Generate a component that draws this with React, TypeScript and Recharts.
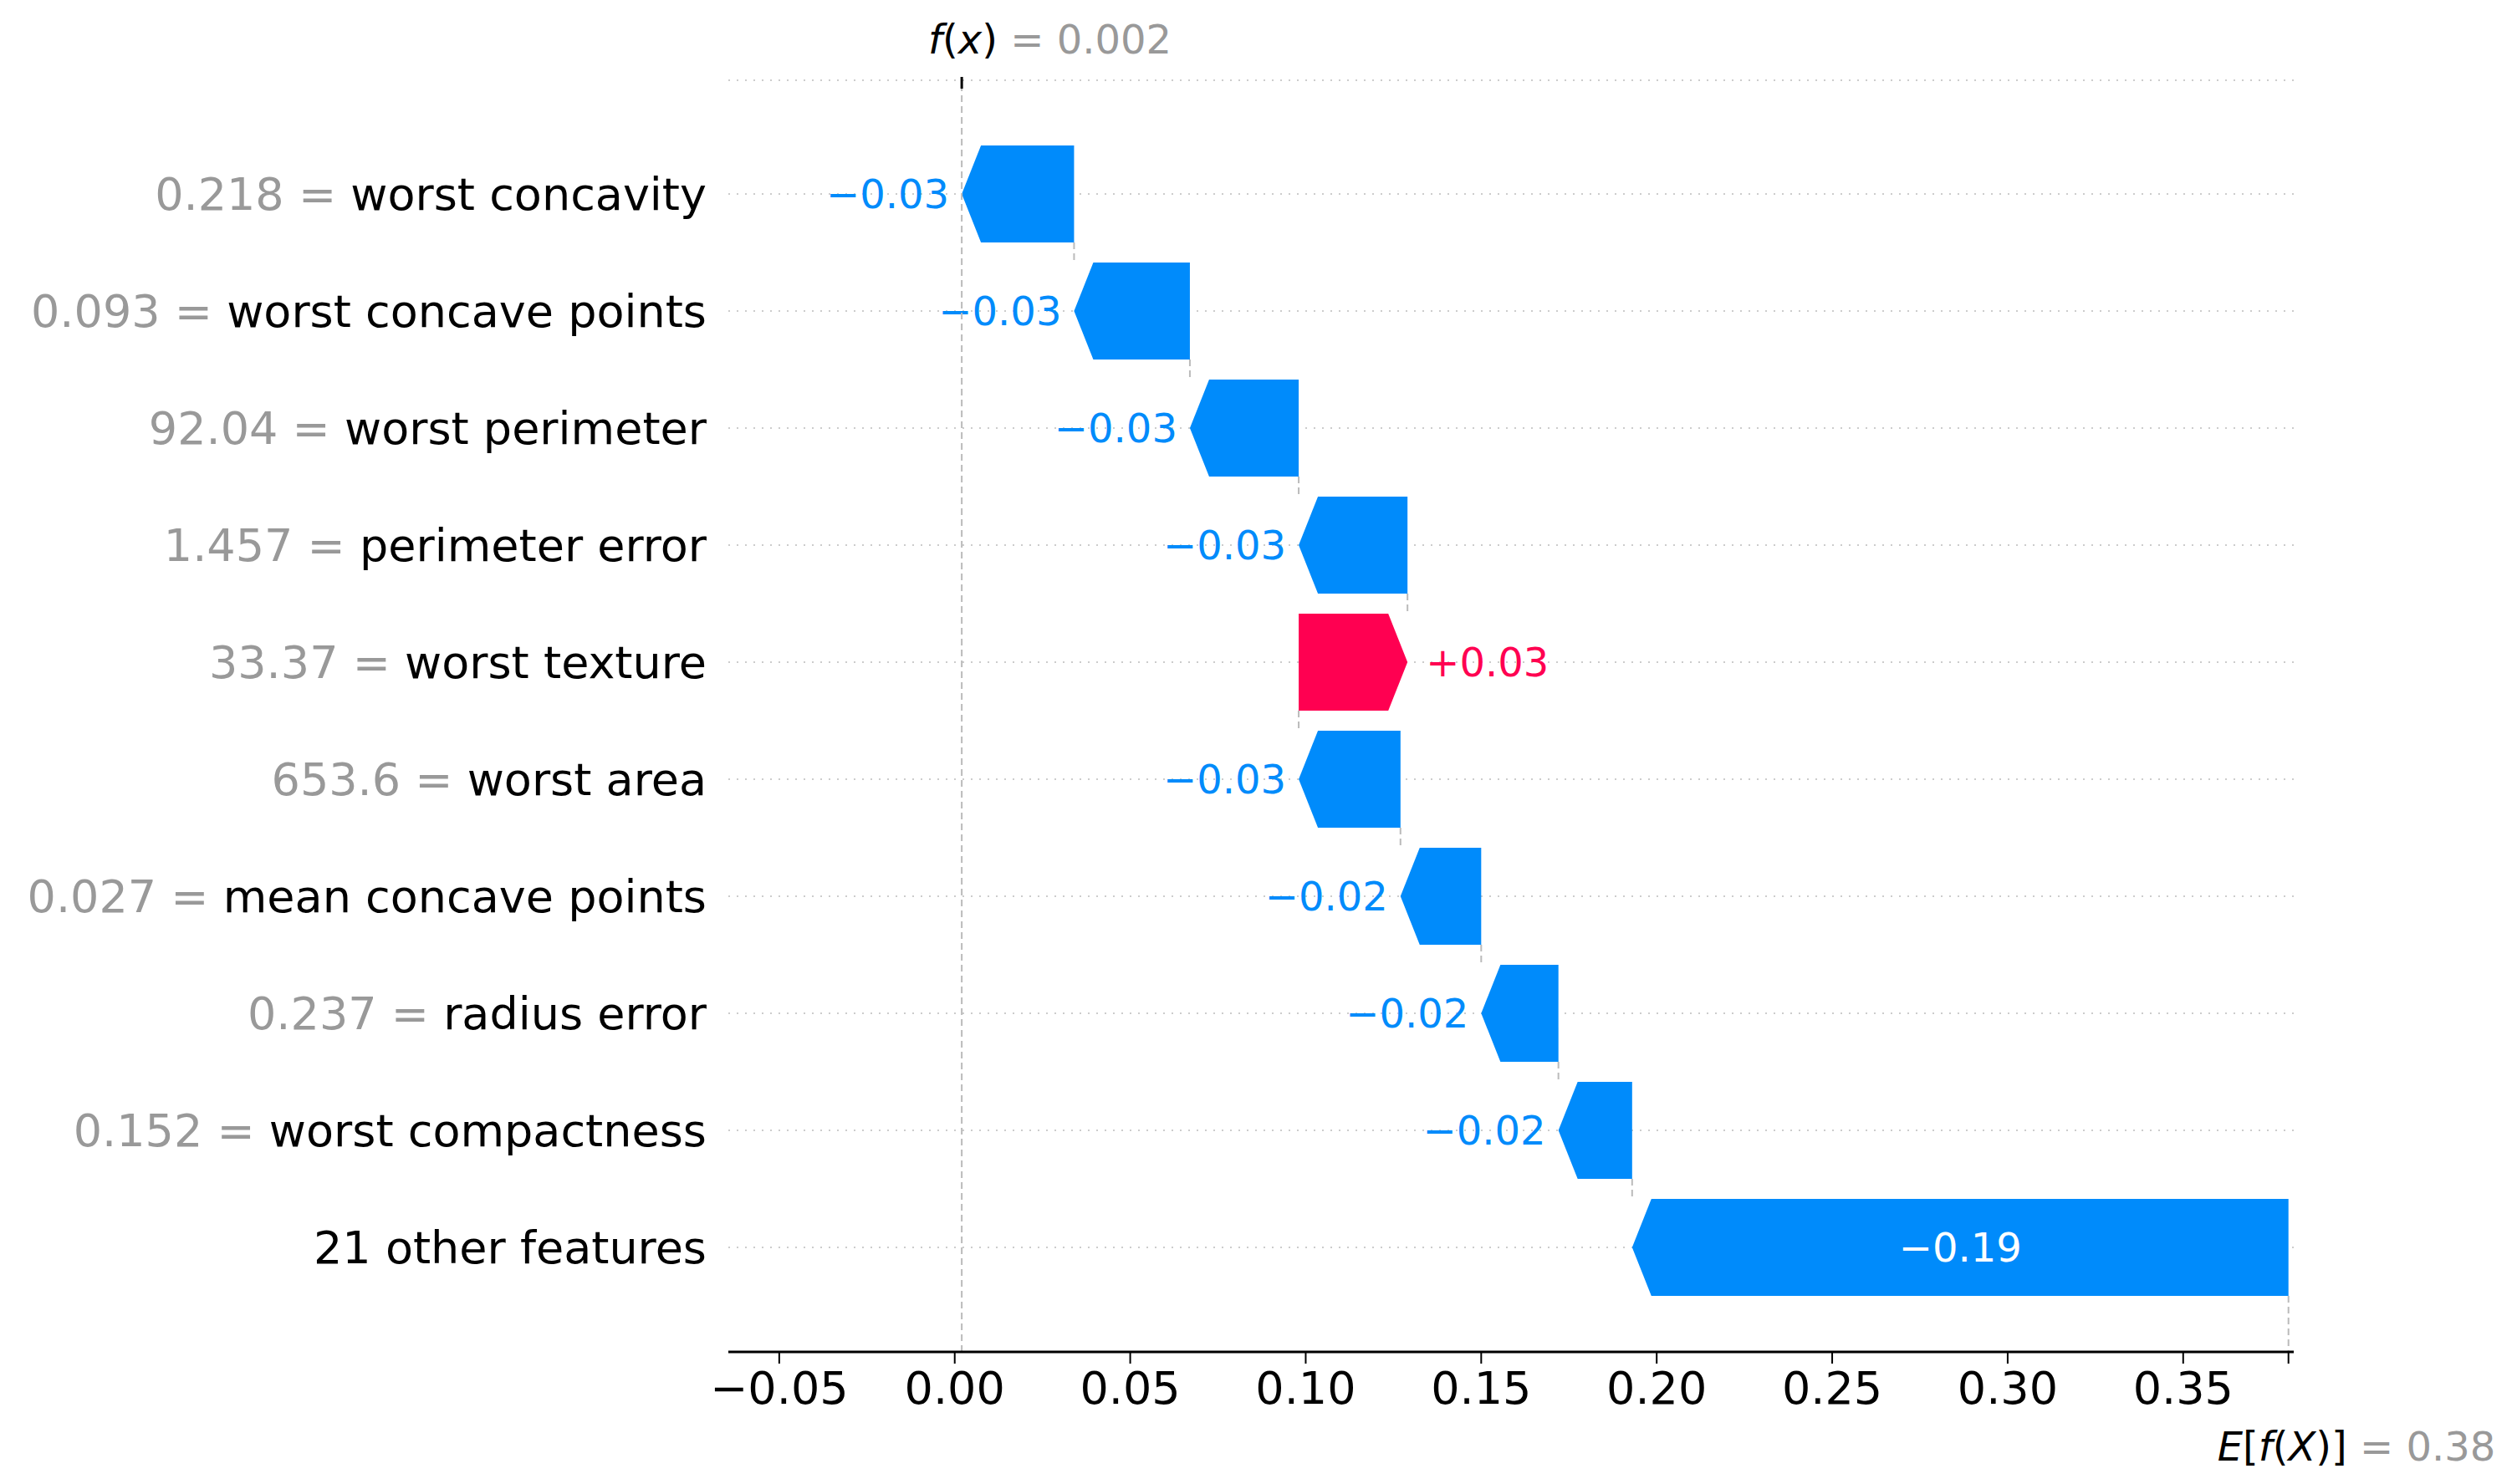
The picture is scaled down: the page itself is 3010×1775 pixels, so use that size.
import React from 'react';
import { ComposedChart, Bar, XAxis, YAxis, CartesianGrid, ReferenceLine } from 'recharts';

const features = [
  'worst concavity', 'worst concave points', 'worst perimeter', 'perimeter error', 'worst texture',
  'worst area', 'mean concave points', 'radius error', 'worst compactness', '21 other features',
];
const featureValues = ['0.218', '0.093', '92.04', '1.457', '33.37', '653.6', '0.027', '0.237', '0.152', ''];
const shapValues = [-0.032, -0.033, -0.031, -0.031, 0.031, -0.029, -0.023, -0.022, -0.021, -0.187];
const baseValue = 0.38;
const outputValue = 0.002;
const xTicks = [-0.05, 0, 0.05, 0.1, 0.15, 0.2, 0.25, 0.3, 0.35, 0.38];

const BLUE = '#008bfb';
const RED = '#ff0051';
const GREY = '#999999';
const FONT = 'DejaVu Sans';

// walk from the base value upwards through the rows (last row first)
const ends: number[] = new Array(features.length);
let running = baseValue;
for (let i = features.length - 1; i >= 0; i--) {
  const after = running + shapValues[i];
  ends[i] = after;
  running = after;
}
const data = features.map((name, i) => {
  const before = ends[i] - shapValues[i];
  return {
    name,
    fv: featureValues[i],
    shap: shapValues[i],
    range: [Math.min(before, ends[i]), Math.max(before, ends[i])],
    last: i === features.length - 1,
  };
});

const fmt = (v: number) => (v < 0 ? '\u2212' : v > 0 ? '+' : '') + Math.abs(v).toFixed(2);

const Arrow = (props: any) => {
  const { x, y, width, height, payload } = props;
  const neg = payload.shap < 0;
  const head = Math.min(23, width);
  const cy = y + height / 2;
  const pts = neg
    ? [[x, cy], [x + head, y], [x + width, y], [x + width, y + height], [x + head, y + height]]
    : [[x, y], [x + width - head, y], [x + width, cy], [x + width - head, y + height], [x, y + height]];
  const joinX = neg ? x + width : x;
  const dashLen = payload.last ? 67 : 24;
  const color = neg ? BLUE : RED;
  let label;
  if (payload.last) {
    label = (
      <text x={x + width / 2} y={cy} fill="#fff" fontSize={48} fontFamily={FONT} textAnchor="middle" dominantBaseline="central">
        {fmt(payload.shap)}
      </text>
    );
  } else if (neg) {
    label = (
      <text x={x - 15} y={cy} fill={color} fontSize={48} fontFamily={FONT} textAnchor="end" dominantBaseline="central">
        {fmt(payload.shap)}
      </text>
    );
  } else {
    label = (
      <text x={x + width + 22} y={cy} fill={color} fontSize={48} fontFamily={FONT} textAnchor="start" dominantBaseline="central">
        {fmt(payload.shap)}
      </text>
    );
  }
  return (
    <g>
      <polygon points={pts.map((p) => p.join(',')).join(' ')} fill={color} />
      <line x1={joinX} x2={joinX} y1={y + height} y2={y + height + dashLen} stroke="#bbb" strokeWidth={2} strokeDasharray="8 5" />
      {label}
    </g>
  );
};

const FeatureTick = (props: any) => {
  const { x, y, payload } = props;
  const d = data.find((r) => r.name === payload.value);
  return (
    <text x={x - 26} y={y} textAnchor="end" dominantBaseline="central" fontSize={54} fontFamily={FONT}>
      {d && d.fv ? <tspan fill={GREY}>{d.fv + ' = '}</tspan> : null}
      <tspan fill="#000">{payload.value}</tspan>
    </text>
  );
};

const FxLabel = (props: any) => {
  const { viewBox } = props;
  const x = viewBox.x;
  const top = viewBox.y;
  return (
    <g>
      <line x1={x} x2={x} y1={top - 4} y2={top + 10} stroke="#000" strokeWidth={3} />
      <text x={x - 40} y={top - 32} fontSize={48} fontFamily={FONT}>
        <tspan fontStyle="italic" fill="#000">f</tspan>
        <tspan fill="#000">(</tspan>
        <tspan fontStyle="italic" fill="#000">x</tspan>
        <tspan fill="#000">)</tspan>
        <tspan fill={GREY}>{' = ' + outputValue.toFixed(3)}</tspan>
      </text>
    </g>
  );
};

const EfxLabel = (props: any) => {
  const { viewBox } = props;
  const x = viewBox.x;
  const bottom = viewBox.y + viewBox.height;
  return (
    <text x={x - 85} y={bottom + 130} fontSize={48} fontFamily={FONT}>
      <tspan fontStyle="italic" fill="#000">E</tspan>
      <tspan fill="#000">[</tspan>
      <tspan fontStyle="italic" fill="#000">f</tspan>
      <tspan fill="#000">(</tspan>
      <tspan fontStyle="italic" fill="#000">X</tspan>
      <tspan fill="#000">)]</tspan>
      <tspan fill={GREY}>{' = ' + baseValue.toFixed(2)}</tspan>
    </text>
  );
};

export default function App() {
  return (
    <div style={{ width: 3000, height: 1760, background: '#fff' }}>
      <ComposedChart
        width={3000}
        height={1760}
        data={data}
        layout="vertical"
        margin={{ top: 88, right: 265, bottom: 51, left: 0 }}
        barCategoryGap={24}
      >
        <CartesianGrid vertical={false} stroke="#ccc" strokeDasharray="2 8" strokeWidth={2} />
        <XAxis
          type="number"
          domain={[-0.0645, 0.3815]}
          ticks={xTicks}
          allowDataOverflow
          tickFormatter={(v: number) => (Math.abs(v - 0.38) < 1e-9 ? '' : (v < 0 ? '\u2212' : '') + Math.abs(v).toFixed(2))}
          tick={{ fontSize: 54, fontFamily: FONT, fill: '#000' }}
          tickSize={14}
          tickMargin={10}
          axisLine={{ stroke: '#000', strokeWidth: 3 }}
          tickLine={{ stroke: '#000', strokeWidth: 2 }}
          height={100}
        />
        <YAxis
          type="category"
          dataKey="name"
          width={863}
          axisLine={false}
          tickLine={false}
          tickSize={0}
          tickMargin={0}
          padding={{ top: 66, bottom: 55 }}
          tick={<FeatureTick />}
          interval={0}
        />
        <ReferenceLine x={outputValue} stroke="#bbb" strokeWidth={2} strokeDasharray="8 5" label={<FxLabel />} />
        <ReferenceLine x={baseValue} stroke="none" label={<EfxLabel />} />
        <Bar dataKey="range" barSize={116} shape={<Arrow />} isAnimationActive={false} />
      </ComposedChart>
    </div>
  );
}
